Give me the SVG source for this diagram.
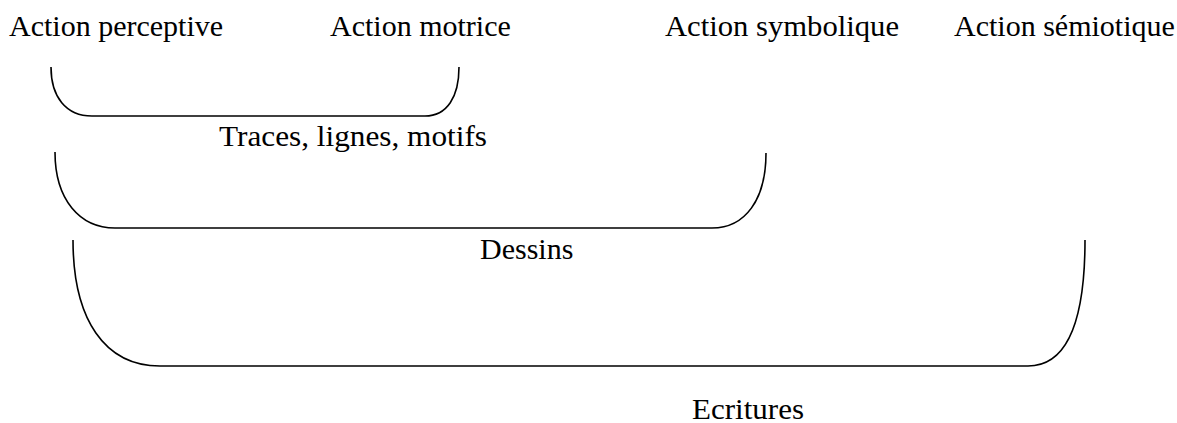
<svg xmlns="http://www.w3.org/2000/svg" width="1177" height="423" viewBox="0 0 1177 423">
<style>
text{font-family:"Liberation Serif","Times New Roman",serif;font-size:30px;fill:#000}
.br{fill:none;stroke:#000;stroke-width:1.6}
</style>
<rect width="1177" height="423" fill="#fff"/>
<g id="labels-top">
<text id="action-perceptive" x="9" y="36">Action perceptive</text>
<text id="action-motrice" x="330" y="36">Action motrice</text>
<text id="action-symbolique" x="665" y="36" textLength="234" lengthAdjust="spacingAndGlyphs">Action symbolique</text>
<text id="action-semiotique" x="954" y="36">Action sémiotique</text>
</g>
<g id="connectors">
<path class="br" d="M51,67 C51,97 66,116 92,116 L425,116 C447,116 459,97 459,67"/>
<path class="br" d="M55,152 C55,200 80,228 115,228 L712,228 C745,228 766,200 766,153"/>
<path class="br" d="M73,240 C73,320 105,366 160,366 L1028,366 C1068,366 1085,320 1085,240"/>
</g>
<g id="traces"><text x="219" y="146" textLength="268" lengthAdjust="spacingAndGlyphs">Traces, lignes, motifs</text></g>
<g id="dessins"><text x="480" y="259">Dessins</text></g>
<g id="ecritures"><text x="692" y="419" textLength="112" lengthAdjust="spacingAndGlyphs">Ecritures</text></g>
</svg>
